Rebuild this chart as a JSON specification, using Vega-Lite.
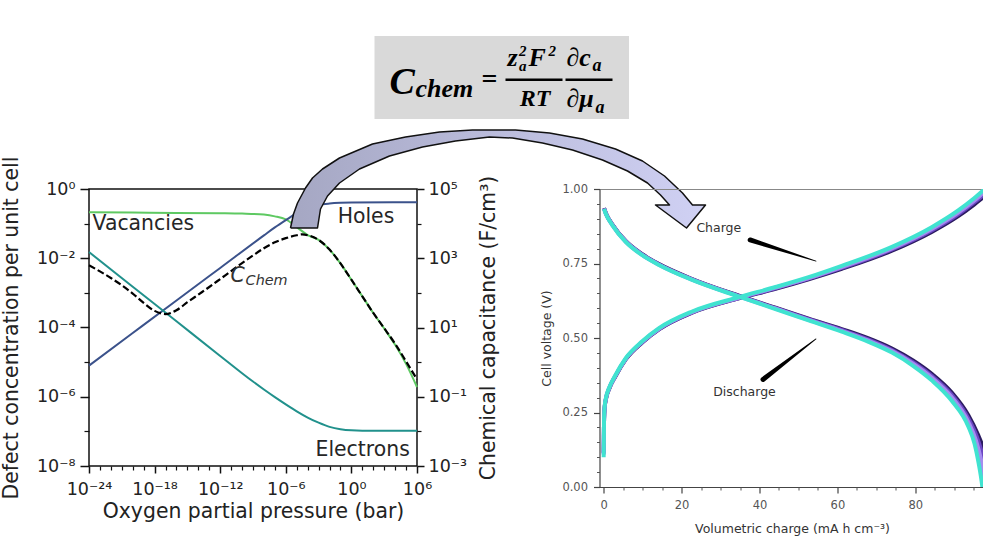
{
  "$schema": "https://vega.github.io/schema/vega-lite/v6.json",
  "background": "white",
  "padding": 0,
  "autosize": {"type": "pad"},
  "spacing": 182.5,
  "bounds": "flush",
  "config": {
    "font": "DejaVu Sans",
    "view": {"stroke": null},
    "axis": {"labelFont": "DejaVu Sans", "titleFont": "DejaVu Sans", "grid": false},
    "text": {"font": "DejaVu Sans"}
  },
  "hconcat": [
    {
      "width": 328,
      "height": 277,
      "view": {"stroke": "#111", "strokeWidth": 1.5},
      "resolve": {"scale": {"x": "independent", "y": "independent", "color": "independent"}},
      "layer": [
        {
          "data": {"values": [
            {"pO2": 1e-24, "conc": 0.214, "species": "Vacancies"},
            {"pO2": 1e-20, "conc": 0.209, "species": "Vacancies"},
            {"pO2": 1e-16, "conc": 0.204, "species": "Vacancies"},
            {"pO2": 1e-12, "conc": 0.2, "species": "Vacancies"},
            {"pO2": 1e-10, "conc": 0.195, "species": "Vacancies"},
            {"pO2": 1e-8, "conc": 0.182, "species": "Vacancies"},
            {"pO2": 1e-7, "conc": 0.162, "species": "Vacancies"},
            {"pO2": 1e-6, "conc": 0.132, "species": "Vacancies"},
            {"pO2": 1e-5, "conc": 0.0794, "species": "Vacancies"},
            {"pO2": 1e-4, "conc": 0.0468, "species": "Vacancies"},
            {"pO2": 1e-3, "conc": 0.0339, "species": "Vacancies"},
            {"pO2": 1e-2, "conc": 0.0178, "species": "Vacancies"},
            {"pO2": 0.1, "conc": 0.00708, "species": "Vacancies"},
            {"pO2": 1, "conc": 0.0024, "species": "Vacancies"},
            {"pO2": 10, "conc": 0.000794, "species": "Vacancies"},
            {"pO2": 100, "conc": 0.000263, "species": "Vacancies"},
            {"pO2": 1000, "conc": 0.0000933, "species": "Vacancies"},
            {"pO2": 1e4, "conc": 0.0000316, "species": "Vacancies"},
            {"pO2": 1e5, "conc": 0.00000891, "species": "Vacancies"},
            {"pO2": 1e6, "conc": 0.00000191, "species": "Vacancies"},
            {"pO2": 1e-24, "conc": 0.00000794, "species": "Holes"},
            {"pO2": 1e-20, "conc": 0.0000692, "species": "Holes"},
            {"pO2": 1e-16, "conc": 0.000603, "species": "Holes"},
            {"pO2": 1e-12, "conc": 0.00525, "species": "Holes"},
            {"pO2": 1e-8, "conc": 0.0457, "species": "Holes"},
            {"pO2": 1e-7, "conc": 0.0776, "species": "Holes"},
            {"pO2": 1e-6, "conc": 0.126, "species": "Holes"},
            {"pO2": 1e-5, "conc": 0.2, "species": "Holes"},
            {"pO2": 1e-4, "conc": 0.282, "species": "Holes"},
            {"pO2": 1e-3, "conc": 0.347, "species": "Holes"},
            {"pO2": 1e-2, "conc": 0.38, "species": "Holes"},
            {"pO2": 0.1, "conc": 0.398, "species": "Holes"},
            {"pO2": 1, "conc": 0.407, "species": "Holes"},
            {"pO2": 1e6, "conc": 0.417, "species": "Holes"},
            {"pO2": 1e-24, "conc": 0.0151, "species": "Electrons"},
            {"pO2": 1e-20, "conc": 0.00151, "species": "Electrons"},
            {"pO2": 1e-16, "conc": 0.000151, "species": "Electrons"},
            {"pO2": 1e-12, "conc": 0.0000151, "species": "Electrons"},
            {"pO2": 1e-10, "conc": 0.00000479, "species": "Electrons"},
            {"pO2": 1e-9, "conc": 0.00000275, "species": "Electrons"},
            {"pO2": 1e-8, "conc": 0.00000162, "species": "Electrons"},
            {"pO2": 1e-7, "conc": 9.77e-7, "species": "Electrons"},
            {"pO2": 1e-6, "conc": 6.03e-7, "species": "Electrons"},
            {"pO2": 1e-5, "conc": 3.8e-7, "species": "Electrons"},
            {"pO2": 1e-4, "conc": 2.51e-7, "species": "Electrons"},
            {"pO2": 1e-3, "conc": 1.78e-7, "species": "Electrons"},
            {"pO2": 1e-2, "conc": 1.35e-7, "species": "Electrons"},
            {"pO2": 0.1, "conc": 1.15e-7, "species": "Electrons"},
            {"pO2": 1, "conc": 1.07e-7, "species": "Electrons"},
            {"pO2": 10, "conc": 1.05e-7, "species": "Electrons"},
            {"pO2": 1e6, "conc": 1.05e-7, "species": "Electrons"}
          ]},
          "mark": {"type": "line", "strokeWidth": 2, "interpolate": "monotone"},
          "encoding": {
            "x": {"field": "pO2", "type": "quantitative",
              "scale": {"type": "log", "domain": [1e-24, 1e6], "nice": false},
              "axis": {"orient": "bottom", "values": [1e-24, 1e-18, 1e-12, 1e-6, 1, 1e6],
                "labelExpr": "'10' + replace(replace(replace(replace(replace(replace(replace(replace(replace(replace(replace('' + round(log(datum.value) / LN10), '-', '⁻'), '0', '⁰'), '1', '¹'), '2', '²'), '3', '³'), '4', '⁴'), '5', '⁵'), '6', '⁶'), '7', '⁷'), '8', '⁸'), '9', '⁹')",
                "title": "Oxygen partial pressure (bar)", "domain": false, "tickSize": 7, "tickWidth": 1.5, "tickColor": "#111",
                "labelFontSize": 17.5, "labelColor": "#222", "labelPadding": 7, "labelFlush": false, "labelOverlap": false,
                "titleFontSize": 20.4, "titleFontWeight": "normal", "titleColor": "#222", "titlePadding": 4}},
            "y": {"field": "conc", "type": "quantitative",
              "scale": {"type": "log", "domain": [1e-8, 1], "nice": false},
              "axis": {"orient": "left", "values": [1e-8, 1e-6, 1e-4, 1e-2, 1],
                "labelExpr": "'10' + replace(replace(replace(replace(replace(replace(replace(replace(replace(replace(replace('' + round(log(datum.value) / LN10), '-', '⁻'), '0', '⁰'), '1', '¹'), '2', '²'), '3', '³'), '4', '⁴'), '5', '⁵'), '6', '⁶'), '7', '⁷'), '8', '⁸'), '9', '⁹')",
                "title": "Defect concentration per unit cell", "domain": false, "tickSize": 9, "tickWidth": 1.5, "tickColor": "#111",
                "labelFontSize": 17.5, "labelColor": "#222", "labelPadding": 5, "labelOverlap": false,
                "titleFontSize": 20.4, "titleFontWeight": "normal", "titleColor": "#222", "titlePadding": 15}},
            "color": {"field": "species", "type": "nominal",
              "scale": {"domain": ["Vacancies", "Holes", "Electrons"], "range": ["#5ec962", "#3b528b", "#21918c"]},
              "legend": null}
          }
        },
        {
          "data": {"values": [
            {"pO2": 2.1e-24, "conc": 0.1, "label": "Vacancies"},
            {"pO2": 0.055, "conc": 0.155, "label": "Holes"},
            {"pO2": 0.00052, "conc": 2.9e-8, "label": "Electrons"}
          ]},
          "mark": {"type": "text", "align": "left", "baseline": "middle", "fontSize": 20.4, "color": "#262626"},
          "encoding": {
            "x": {"field": "pO2", "type": "quantitative",
              "scale": {"type": "log", "domain": [1e-24, 1e6], "nice": false},
              "axis": {"orient": "bottom", "values": [1e-23, 1e-22, 1e-21, 1e-20, 1e-19, 1e-17, 1e-16, 1e-15, 1e-14, 1e-13, 1e-11, 1e-10, 1e-9, 1e-8, 1e-7, 1e-5, 1e-4, 1e-3, 1e-2, 1e-1, 10, 100, 1000, 1e4, 1e5],
                "labels": false, "domain": false, "tickSize": 4, "tickWidth": 1.2, "tickColor": "#111", "title": null}},
            "y": {"field": "conc", "type": "quantitative",
              "scale": {"type": "log", "domain": [1e-8, 1], "nice": false},
              "axis": {"orient": "left", "values": [1e-7, 1e-5, 1e-3, 1e-1],
                "labels": false, "domain": false, "tickSize": 5, "tickWidth": 1.2, "tickColor": "#111", "title": null}},
            "text": {"field": "label"}
          }
        },
        {
          "data": {"values": [
            {"pO2": 1e-24, "cap": 631}, {"pO2": 1e-23, "cap": 417}, {"pO2": 1e-22, "cap": 269},
            {"pO2": 1e-21, "cap": 166}, {"pO2": 1e-20, "cap": 95.5}, {"pO2": 1e-19, "cap": 51.3},
            {"pO2": 1e-18, "cap": 30.2}, {"pO2": 1e-17, "cap": 24.5}, {"pO2": 1e-16, "cap": 31.6},
            {"pO2": 1e-15, "cap": 53.7}, {"pO2": 1e-14, "cap": 89.1}, {"pO2": 1e-13, "cap": 148},
            {"pO2": 1e-12, "cap": 251}, {"pO2": 1e-11, "cap": 427}, {"pO2": 1e-10, "cap": 724},
            {"pO2": 1e-9, "cap": 1202}, {"pO2": 1e-8, "cap": 1950}, {"pO2": 1e-7, "cap": 2884},
            {"pO2": 1e-6, "cap": 3802}, {"pO2": 1e-5, "cap": 4624}, {"pO2": 3.16e-5, "cap": 4898},
            {"pO2": 1e-4, "cap": 4624}, {"pO2": 1e-3, "cap": 3388}, {"pO2": 1e-2, "cap": 1778},
            {"pO2": 0.1, "cap": 708}, {"pO2": 1, "cap": 240}, {"pO2": 10, "cap": 79.4},
            {"pO2": 100, "cap": 26.3}, {"pO2": 1000, "cap": 9.55}, {"pO2": 1e4, "cap": 3.39},
            {"pO2": 1e5, "cap": 1.05}, {"pO2": 1e6, "cap": 0.316}
          ]},
          "mark": {"type": "line", "color": "#000", "strokeWidth": 2.2, "strokeDash": [7, 3], "interpolate": "monotone"},
          "encoding": {
            "x": {"field": "pO2", "type": "quantitative",
              "scale": {"type": "log", "domain": [1e-24, 1e6], "nice": false}, "axis": null},
            "y": {"field": "cap", "type": "quantitative",
              "scale": {"type": "log", "domain": [1e-3, 1e5], "nice": false},
              "axis": {"orient": "right", "values": [1e-3, 1e-1, 10, 1000, 1e5],
                "labelExpr": "'10' + replace(replace(replace(replace(replace(replace(replace(replace(replace(replace(replace('' + round(log(datum.value) / LN10), '-', '⁻'), '0', '⁰'), '1', '¹'), '2', '²'), '3', '³'), '4', '⁴'), '5', '⁵'), '6', '⁶'), '7', '⁷'), '8', '⁸'), '9', '⁹')",
                "title": "Chemical capacitance (F/cm³)", "titleAngle": 270, "titleBaseline": "top",
                "domain": false, "tickSize": 7, "tickWidth": 1.5, "tickColor": "#111",
                "labelFontSize": 17.5, "labelColor": "#222", "labelPadding": 4, "labelOverlap": false,
                "titleFontSize": 20.4, "titleFontWeight": "normal", "titleColor": "#222", "titlePadding": 12}}
          }
        },
        {
          "data": {"values": [{"pO2": 8.9e-12, "cap": 302, "label": "C"}]},
          "mark": {"type": "text", "align": "left", "baseline": "middle", "fontSize": 20.4, "fontStyle": "italic", "color": "#333"},
          "encoding": {
            "x": {"field": "pO2", "type": "quantitative",
              "scale": {"type": "log", "domain": [1e-24, 1e6], "nice": false}, "axis": null},
            "y": {"field": "cap", "type": "quantitative",
              "scale": {"type": "log", "domain": [1e-3, 1e5], "nice": false},
              "axis": {"orient": "right", "values": [1e-2, 1, 100, 1e4],
                "labels": false, "domain": false, "tickSize": 4, "tickWidth": 1.2, "tickColor": "#111", "title": null}},
            "text": {"field": "label"}
          }
        },
        {
          "data": {"values": [{"pO2": 2.1e-10, "cap": 214, "label": "Chem"}]},
          "mark": {"type": "text", "align": "left", "baseline": "middle", "fontSize": 14.4, "fontStyle": "italic", "color": "#333"},
          "encoding": {
            "x": {"field": "pO2", "type": "quantitative",
              "scale": {"type": "log", "domain": [1e-24, 1e6], "nice": false}, "axis": null},
            "y": {"field": "cap", "type": "quantitative",
              "scale": {"type": "log", "domain": [1e-3, 1e5], "nice": false}, "axis": null},
            "text": {"field": "label"}
          }
        },
        {
          "layer": [
            {
              "data": {"values": [{}]},
              "mark": {"type": "rect", "opacity": 0},
              "encoding": {
                "x": {"datum": 0, "type": "quantitative", "scale": {"domain": [86.5, 414.5], "nice": false, "zero": false}, "axis": null},
                "x2": {"datum": 982},
                "y": {"datum": 0, "type": "quantitative", "scale": {"domain": [188, 465], "reverse": true, "nice": false, "zero": false}, "axis": null},
                "y2": {"datum": 554}
              }
            },
            {
              "data": {"values": [{}]},
              "mark": {"type": "rect", "fill": "#d9d9d9"},
              "encoding": {
                "x": {"datum": 372, "type": "quantitative", "scale": {"domain": [86.5, 414.5], "nice": false, "zero": false}, "axis": null},
                "x2": {"datum": 626.5},
                "y": {"datum": 35, "type": "quantitative", "scale": {"domain": [188, 465], "reverse": true, "nice": false, "zero": false}, "axis": null},
                "y2": {"datum": 118}
              }
            },
            {
              "data": {"values": [{}]},
              "mark": {"type": "text", "text": "C", "font": "Liberation Serif", "fontStyle": "italic", "fontWeight": "bold", "fontSize": 38, "align": "left", "baseline": "alphabetic", "color": "#000"},
              "encoding": {
                "x": {"datum": 387, "type": "quantitative", "scale": {"domain": [86.5, 414.5], "nice": false, "zero": false}, "axis": null},
                "y": {"datum": 93, "type": "quantitative", "scale": {"domain": [188, 465], "reverse": true, "nice": false, "zero": false}, "axis": null}
              }
            },
            {
              "data": {"values": [{}]},
              "mark": {"type": "text", "text": "chem", "font": "Liberation Serif", "fontStyle": "italic", "fontWeight": "bold", "fontSize": 26, "align": "left", "baseline": "alphabetic", "color": "#000"},
              "encoding": {
                "x": {"datum": 413, "type": "quantitative", "scale": {"domain": [86.5, 414.5], "nice": false, "zero": false}, "axis": null},
                "y": {"datum": 96, "type": "quantitative", "scale": {"domain": [188, 465], "reverse": true, "nice": false, "zero": false}, "axis": null}
              }
            },
            {
              "data": {"values": [{}]},
              "mark": {"type": "text", "text": "=", "font": "Liberation Serif", "fontWeight": "bold", "fontSize": 28, "align": "left", "baseline": "alphabetic", "color": "#000"},
              "encoding": {
                "x": {"datum": 479, "type": "quantitative", "scale": {"domain": [86.5, 414.5], "nice": false, "zero": false}, "axis": null},
                "y": {"datum": 87, "type": "quantitative", "scale": {"domain": [188, 465], "reverse": true, "nice": false, "zero": false}, "axis": null}
              }
            },
            {
              "data": {"values": [{}]},
              "mark": {"type": "text", "text": "z", "font": "Liberation Serif", "fontStyle": "italic", "fontWeight": "bold", "fontSize": 26, "align": "left", "baseline": "alphabetic", "color": "#000"},
              "encoding": {
                "x": {"datum": 505, "type": "quantitative", "scale": {"domain": [86.5, 414.5], "nice": false, "zero": false}, "axis": null},
                "y": {"datum": 65, "type": "quantitative", "scale": {"domain": [188, 465], "reverse": true, "nice": false, "zero": false}, "axis": null}
              }
            },
            {
              "data": {"values": [{}]},
              "mark": {"type": "text", "text": "2", "font": "Liberation Serif", "fontStyle": "italic", "fontWeight": "bold", "fontSize": 15, "align": "left", "baseline": "alphabetic", "color": "#000"},
              "encoding": {
                "x": {"datum": 516.5, "type": "quantitative", "scale": {"domain": [86.5, 414.5], "nice": false, "zero": false}, "axis": null},
                "y": {"datum": 55, "type": "quantitative", "scale": {"domain": [188, 465], "reverse": true, "nice": false, "zero": false}, "axis": null}
              }
            },
            {
              "data": {"values": [{}]},
              "mark": {"type": "text", "text": "a", "font": "Liberation Serif", "fontStyle": "italic", "fontWeight": "bold", "fontSize": 15, "align": "left", "baseline": "alphabetic", "color": "#000"},
              "encoding": {
                "x": {"datum": 516.5, "type": "quantitative", "scale": {"domain": [86.5, 414.5], "nice": false, "zero": false}, "axis": null},
                "y": {"datum": 70, "type": "quantitative", "scale": {"domain": [188, 465], "reverse": true, "nice": false, "zero": false}, "axis": null}
              }
            },
            {
              "data": {"values": [{}]},
              "mark": {"type": "text", "text": "F", "font": "Liberation Serif", "fontStyle": "italic", "fontWeight": "bold", "fontSize": 26, "align": "left", "baseline": "alphabetic", "color": "#000"},
              "encoding": {
                "x": {"datum": 526, "type": "quantitative", "scale": {"domain": [86.5, 414.5], "nice": false, "zero": false}, "axis": null},
                "y": {"datum": 65, "type": "quantitative", "scale": {"domain": [188, 465], "reverse": true, "nice": false, "zero": false}, "axis": null}
              }
            },
            {
              "data": {"values": [{}]},
              "mark": {"type": "text", "text": "2", "font": "Liberation Serif", "fontStyle": "italic", "fontWeight": "bold", "fontSize": 15, "align": "left", "baseline": "alphabetic", "color": "#000"},
              "encoding": {
                "x": {"datum": 546, "type": "quantitative", "scale": {"domain": [86.5, 414.5], "nice": false, "zero": false}, "axis": null},
                "y": {"datum": 55, "type": "quantitative", "scale": {"domain": [188, 465], "reverse": true, "nice": false, "zero": false}, "axis": null}
              }
            },
            {
              "data": {"values": [{}]},
              "mark": {"type": "text", "text": "RT", "font": "Liberation Serif", "fontStyle": "italic", "fontWeight": "bold", "fontSize": 24, "align": "center", "baseline": "alphabetic", "color": "#000"},
              "encoding": {
                "x": {"datum": 532.5, "type": "quantitative", "scale": {"domain": [86.5, 414.5], "nice": false, "zero": false}, "axis": null},
                "y": {"datum": 105, "type": "quantitative", "scale": {"domain": [188, 465], "reverse": true, "nice": false, "zero": false}, "axis": null}
              }
            },
            {
              "data": {"values": [{}]},
              "mark": {"type": "text", "text": "∂c", "font": "Liberation Serif", "fontStyle": "italic", "fontWeight": "bold", "fontSize": 26, "align": "left", "baseline": "alphabetic", "color": "#000"},
              "encoding": {
                "x": {"datum": 564, "type": "quantitative", "scale": {"domain": [86.5, 414.5], "nice": false, "zero": false}, "axis": null},
                "y": {"datum": 65, "type": "quantitative", "scale": {"domain": [188, 465], "reverse": true, "nice": false, "zero": false}, "axis": null}
              }
            },
            {
              "data": {"values": [{}]},
              "mark": {"type": "text", "text": "a", "font": "Liberation Serif", "fontStyle": "italic", "fontWeight": "bold", "fontSize": 18, "align": "left", "baseline": "alphabetic", "color": "#000"},
              "encoding": {
                "x": {"datum": 590, "type": "quantitative", "scale": {"domain": [86.5, 414.5], "nice": false, "zero": false}, "axis": null},
                "y": {"datum": 70, "type": "quantitative", "scale": {"domain": [188, 465], "reverse": true, "nice": false, "zero": false}, "axis": null}
              }
            },
            {
              "data": {"values": [{}]},
              "mark": {"type": "text", "text": "∂μ", "font": "Liberation Serif", "fontStyle": "italic", "fontWeight": "bold", "fontSize": 26, "align": "left", "baseline": "alphabetic", "color": "#000"},
              "encoding": {
                "x": {"datum": 564, "type": "quantitative", "scale": {"domain": [86.5, 414.5], "nice": false, "zero": false}, "axis": null},
                "y": {"datum": 106, "type": "quantitative", "scale": {"domain": [188, 465], "reverse": true, "nice": false, "zero": false}, "axis": null}
              }
            },
            {
              "data": {"values": [{}]},
              "mark": {"type": "text", "text": "a", "font": "Liberation Serif", "fontStyle": "italic", "fontWeight": "bold", "fontSize": 18, "align": "left", "baseline": "alphabetic", "color": "#000"},
              "encoding": {
                "x": {"datum": 593, "type": "quantitative", "scale": {"domain": [86.5, 414.5], "nice": false, "zero": false}, "axis": null},
                "y": {"datum": 112, "type": "quantitative", "scale": {"domain": [188, 465], "reverse": true, "nice": false, "zero": false}, "axis": null}
              }
            },
            {
              "data": {"values": [{"from": 503, "to": 560}, {"from": 563, "to": 610}]},
              "mark": {"type": "rule", "color": "#000", "strokeWidth": 2.5},
              "encoding": {
                "x": {"field": "from", "type": "quantitative", "scale": {"domain": [86.5, 414.5], "nice": false, "zero": false}, "axis": null},
                "x2": {"field": "to"},
                "y": {"datum": 78.7, "type": "quantitative", "scale": {"domain": [188, 465], "reverse": true, "nice": false, "zero": false}, "axis": null}
              }
            },
            {
              "data": {"values": [
                {"i": 1, "x": 288, "y": 227}, {"i": 2, "x": 291, "y": 213}, {"i": 3, "x": 295, "y": 202},
                {"i": 4, "x": 303, "y": 187}, {"i": 5, "x": 310, "y": 177}, {"i": 6, "x": 320, "y": 168},
                {"i": 7, "x": 337, "y": 157}, {"i": 8, "x": 370, "y": 143}, {"i": 9, "x": 403, "y": 136},
                {"i": 10, "x": 437, "y": 131}, {"i": 11, "x": 470, "y": 129}, {"i": 12, "x": 513, "y": 129},
                {"i": 13, "x": 547, "y": 132}, {"i": 14, "x": 580, "y": 138}, {"i": 15, "x": 613, "y": 148},
                {"i": 16, "x": 640, "y": 160}, {"i": 17, "x": 662, "y": 175}, {"i": 18, "x": 680, "y": 192},
                {"i": 19, "x": 690, "y": 204}, {"i": 20, "x": 703, "y": 204}, {"i": 21, "x": 684, "y": 227},
                {"i": 22, "x": 653, "y": 204}, {"i": 23, "x": 667, "y": 204}, {"i": 24, "x": 658, "y": 194},
                {"i": 25, "x": 645, "y": 182}, {"i": 26, "x": 625, "y": 170}, {"i": 27, "x": 600, "y": 159},
                {"i": 28, "x": 570, "y": 149}, {"i": 29, "x": 540, "y": 142}, {"i": 30, "x": 510, "y": 137},
                {"i": 31, "x": 487, "y": 136}, {"i": 32, "x": 453, "y": 140}, {"i": 33, "x": 420, "y": 146},
                {"i": 34, "x": 387, "y": 155}, {"i": 35, "x": 357, "y": 168}, {"i": 36, "x": 337, "y": 182},
                {"i": 37, "x": 325, "y": 195}, {"i": 38, "x": 318, "y": 208}, {"i": 39, "x": 315, "y": 227},
                {"i": 40, "x": 288, "y": 227}
              ]},
              "mark": {"type": "line", "stroke": "#111", "strokeWidth": 1.5, "strokeJoin": "round",
                "fill": {"gradient": "linear", "x1": 0, "y1": 0, "x2": 1, "y2": 0,
                  "stops": [{"offset": 0, "color": "#a5a7c3"}, {"offset": 1, "color": "#d0d1f4"}]}},
              "encoding": {
                "x": {"field": "x", "type": "quantitative", "scale": {"domain": [86.5, 414.5], "nice": false, "zero": false}, "axis": null},
                "y": {"field": "y", "type": "quantitative", "scale": {"domain": [188, 465], "reverse": true, "nice": false, "zero": false}, "axis": null},
                "order": {"field": "i", "type": "quantitative"}
              }
            }
          ]
        }
      ]
    },
    {
      "width": 385,
      "height": 298,
      "resolve": {"scale": {"x": "independent", "y": "independent", "color": "independent", "size": "independent"}},
      "layer": [
        {
          "data": {"values": [
            {"cycle": "1", "step": "charge", "q": 0, "V": 0.115}, {"cycle": "1", "step": "charge", "q": 0.05, "V": 0.17},
            {"cycle": "1", "step": "charge", "q": 0.1, "V": 0.225}, {"cycle": "1", "step": "charge", "q": 0.25, "V": 0.265},
            {"cycle": "1", "step": "charge", "q": 0.6, "V": 0.296}, {"cycle": "1", "step": "charge", "q": 1.4, "V": 0.329},
            {"cycle": "1", "step": "charge", "q": 3, "V": 0.371}, {"cycle": "1", "step": "charge", "q": 5.7, "V": 0.429},
            {"cycle": "1", "step": "charge", "q": 9.9, "V": 0.485}, {"cycle": "1", "step": "charge", "q": 14.2, "V": 0.529},
            {"cycle": "1", "step": "charge", "q": 22.7, "V": 0.585}, {"cycle": "1", "step": "charge", "q": 34.7, "V": 0.633},
            {"cycle": "1", "step": "charge", "q": 44.1, "V": 0.665}, {"cycle": "1", "step": "charge", "q": 52.6, "V": 0.697},
            {"cycle": "1", "step": "charge", "q": 61.1, "V": 0.732}, {"cycle": "1", "step": "charge", "q": 74, "V": 0.793},
            {"cycle": "1", "step": "charge", "q": 84.2, "V": 0.856}, {"cycle": "1", "step": "charge", "q": 91, "V": 0.909},
            {"cycle": "1", "step": "charge", "q": 95, "V": 0.947}, {"cycle": "1", "step": "charge", "q": 99, "V": 0.989},
            {"cycle": "1", "step": "discharge", "q": 0.1, "V": 0.936}, {"cycle": "1", "step": "discharge", "q": 0.6, "V": 0.918},
            {"cycle": "1", "step": "discharge", "q": 2.25, "V": 0.881}, {"cycle": "1", "step": "discharge", "q": 5.7, "V": 0.825},
            {"cycle": "1", "step": "discharge", "q": 9.9, "V": 0.781}, {"cycle": "1", "step": "discharge", "q": 14.2, "V": 0.748},
            {"cycle": "1", "step": "discharge", "q": 22.7, "V": 0.698}, {"cycle": "1", "step": "discharge", "q": 34.7, "V": 0.642},
            {"cycle": "1", "step": "discharge", "q": 44.1, "V": 0.602}, {"cycle": "1", "step": "discharge", "q": 52.6, "V": 0.565},
            {"cycle": "1", "step": "discharge", "q": 61.1, "V": 0.53}, {"cycle": "1", "step": "discharge", "q": 68, "V": 0.499},
            {"cycle": "1", "step": "discharge", "q": 74, "V": 0.465}, {"cycle": "1", "step": "discharge", "q": 79.5, "V": 0.424},
            {"cycle": "1", "step": "discharge", "q": 84.2, "V": 0.38}, {"cycle": "1", "step": "discharge", "q": 89.3, "V": 0.318},
            {"cycle": "1", "step": "discharge", "q": 93.6, "V": 0.241}, {"cycle": "1", "step": "discharge", "q": 96.1, "V": 0.175},
            {"cycle": "1", "step": "discharge", "q": 98, "V": 0.11}, {"cycle": "1", "step": "discharge", "q": 99.4, "V": 0.04},
            {"cycle": "1", "step": "discharge", "q": 100, "V": 0},
            {"cycle": "2", "step": "charge", "q": 0, "V": 0.112}, {"cycle": "2", "step": "charge", "q": 0.05, "V": 0.165},
            {"cycle": "2", "step": "charge", "q": 0.1, "V": 0.227}, {"cycle": "2", "step": "charge", "q": 0.25, "V": 0.267},
            {"cycle": "2", "step": "charge", "q": 0.6, "V": 0.297}, {"cycle": "2", "step": "charge", "q": 1.4, "V": 0.33},
            {"cycle": "2", "step": "charge", "q": 3, "V": 0.372}, {"cycle": "2", "step": "charge", "q": 5.7, "V": 0.43},
            {"cycle": "2", "step": "charge", "q": 9.9, "V": 0.486}, {"cycle": "2", "step": "charge", "q": 14.2, "V": 0.53},
            {"cycle": "2", "step": "charge", "q": 22.7, "V": 0.586}, {"cycle": "2", "step": "charge", "q": 34.7, "V": 0.634},
            {"cycle": "2", "step": "charge", "q": 44.1, "V": 0.667}, {"cycle": "2", "step": "charge", "q": 52.6, "V": 0.699},
            {"cycle": "2", "step": "charge", "q": 61.1, "V": 0.735}, {"cycle": "2", "step": "charge", "q": 74, "V": 0.797},
            {"cycle": "2", "step": "charge", "q": 84.2, "V": 0.861}, {"cycle": "2", "step": "charge", "q": 91, "V": 0.915},
            {"cycle": "2", "step": "charge", "q": 95, "V": 0.954}, {"cycle": "2", "step": "charge", "q": 98.5, "V": 0.991},
            {"cycle": "2", "step": "discharge", "q": 0.1, "V": 0.935}, {"cycle": "2", "step": "discharge", "q": 0.6, "V": 0.917},
            {"cycle": "2", "step": "discharge", "q": 2.25, "V": 0.88}, {"cycle": "2", "step": "discharge", "q": 5.7, "V": 0.824},
            {"cycle": "2", "step": "discharge", "q": 9.9, "V": 0.78}, {"cycle": "2", "step": "discharge", "q": 14.2, "V": 0.747},
            {"cycle": "2", "step": "discharge", "q": 22.7, "V": 0.697}, {"cycle": "2", "step": "discharge", "q": 34.7, "V": 0.641},
            {"cycle": "2", "step": "discharge", "q": 44.1, "V": 0.6}, {"cycle": "2", "step": "discharge", "q": 52.6, "V": 0.563},
            {"cycle": "2", "step": "discharge", "q": 61.1, "V": 0.527}, {"cycle": "2", "step": "discharge", "q": 68, "V": 0.495},
            {"cycle": "2", "step": "discharge", "q": 74, "V": 0.46}, {"cycle": "2", "step": "discharge", "q": 79.5, "V": 0.418},
            {"cycle": "2", "step": "discharge", "q": 84.2, "V": 0.373}, {"cycle": "2", "step": "discharge", "q": 89.3, "V": 0.31},
            {"cycle": "2", "step": "discharge", "q": 93.6, "V": 0.23}, {"cycle": "2", "step": "discharge", "q": 95.8, "V": 0.168},
            {"cycle": "2", "step": "discharge", "q": 97.4, "V": 0.1}, {"cycle": "2", "step": "discharge", "q": 98.6, "V": 0.03},
            {"cycle": "2", "step": "discharge", "q": 99, "V": 0},
            {"cycle": "3", "step": "charge", "q": 0, "V": 0.108}, {"cycle": "3", "step": "charge", "q": 0.05, "V": 0.162},
            {"cycle": "3", "step": "charge", "q": 0.1, "V": 0.228}, {"cycle": "3", "step": "charge", "q": 0.25, "V": 0.268},
            {"cycle": "3", "step": "charge", "q": 0.6, "V": 0.298}, {"cycle": "3", "step": "charge", "q": 1.4, "V": 0.331},
            {"cycle": "3", "step": "charge", "q": 3, "V": 0.373}, {"cycle": "3", "step": "charge", "q": 5.7, "V": 0.431},
            {"cycle": "3", "step": "charge", "q": 9.9, "V": 0.487}, {"cycle": "3", "step": "charge", "q": 14.2, "V": 0.531},
            {"cycle": "3", "step": "charge", "q": 22.7, "V": 0.587}, {"cycle": "3", "step": "charge", "q": 34.7, "V": 0.635},
            {"cycle": "3", "step": "charge", "q": 44.1, "V": 0.669}, {"cycle": "3", "step": "charge", "q": 52.6, "V": 0.701},
            {"cycle": "3", "step": "charge", "q": 61.1, "V": 0.738}, {"cycle": "3", "step": "charge", "q": 74, "V": 0.801},
            {"cycle": "3", "step": "charge", "q": 84.2, "V": 0.866}, {"cycle": "3", "step": "charge", "q": 91, "V": 0.921},
            {"cycle": "3", "step": "charge", "q": 95, "V": 0.96}, {"cycle": "3", "step": "charge", "q": 98, "V": 0.994},
            {"cycle": "3", "step": "discharge", "q": 0.1, "V": 0.934}, {"cycle": "3", "step": "discharge", "q": 0.6, "V": 0.916},
            {"cycle": "3", "step": "discharge", "q": 2.25, "V": 0.879}, {"cycle": "3", "step": "discharge", "q": 5.7, "V": 0.823},
            {"cycle": "3", "step": "discharge", "q": 9.9, "V": 0.779}, {"cycle": "3", "step": "discharge", "q": 14.2, "V": 0.746},
            {"cycle": "3", "step": "discharge", "q": 22.7, "V": 0.696}, {"cycle": "3", "step": "discharge", "q": 34.7, "V": 0.64},
            {"cycle": "3", "step": "discharge", "q": 44.1, "V": 0.599}, {"cycle": "3", "step": "discharge", "q": 52.6, "V": 0.561},
            {"cycle": "3", "step": "discharge", "q": 61.1, "V": 0.524}, {"cycle": "3", "step": "discharge", "q": 68, "V": 0.491},
            {"cycle": "3", "step": "discharge", "q": 74, "V": 0.456}, {"cycle": "3", "step": "discharge", "q": 79.5, "V": 0.413},
            {"cycle": "3", "step": "discharge", "q": 84.2, "V": 0.367}, {"cycle": "3", "step": "discharge", "q": 89.3, "V": 0.302},
            {"cycle": "3", "step": "discharge", "q": 93.6, "V": 0.218}, {"cycle": "3", "step": "discharge", "q": 95.5, "V": 0.158},
            {"cycle": "3", "step": "discharge", "q": 96.8, "V": 0.095}, {"cycle": "3", "step": "discharge", "q": 97.8, "V": 0.025},
            {"cycle": "3", "step": "discharge", "q": 98.1, "V": 0},
            {"cycle": "4", "step": "charge", "q": 0, "V": 0.1}, {"cycle": "4", "step": "charge", "q": 0.05, "V": 0.16},
            {"cycle": "4", "step": "charge", "q": 0.1, "V": 0.23}, {"cycle": "4", "step": "charge", "q": 0.25, "V": 0.27},
            {"cycle": "4", "step": "charge", "q": 0.6, "V": 0.3}, {"cycle": "4", "step": "charge", "q": 1.4, "V": 0.333},
            {"cycle": "4", "step": "charge", "q": 3, "V": 0.375}, {"cycle": "4", "step": "charge", "q": 5.7, "V": 0.433},
            {"cycle": "4", "step": "charge", "q": 9.9, "V": 0.489}, {"cycle": "4", "step": "charge", "q": 14.2, "V": 0.533},
            {"cycle": "4", "step": "charge", "q": 22.7, "V": 0.589}, {"cycle": "4", "step": "charge", "q": 34.7, "V": 0.637},
            {"cycle": "4", "step": "charge", "q": 44.1, "V": 0.671}, {"cycle": "4", "step": "charge", "q": 52.6, "V": 0.704},
            {"cycle": "4", "step": "charge", "q": 61.1, "V": 0.742}, {"cycle": "4", "step": "charge", "q": 74, "V": 0.806},
            {"cycle": "4", "step": "charge", "q": 84.2, "V": 0.872}, {"cycle": "4", "step": "charge", "q": 91, "V": 0.928},
            {"cycle": "4", "step": "charge", "q": 95, "V": 0.968}, {"cycle": "4", "step": "charge", "q": 98, "V": 1.002},
            {"cycle": "4", "step": "discharge", "q": 0.1, "V": 0.933}, {"cycle": "4", "step": "discharge", "q": 0.6, "V": 0.915},
            {"cycle": "4", "step": "discharge", "q": 2.25, "V": 0.878}, {"cycle": "4", "step": "discharge", "q": 5.7, "V": 0.822},
            {"cycle": "4", "step": "discharge", "q": 9.9, "V": 0.778}, {"cycle": "4", "step": "discharge", "q": 14.2, "V": 0.745},
            {"cycle": "4", "step": "discharge", "q": 22.7, "V": 0.695}, {"cycle": "4", "step": "discharge", "q": 34.7, "V": 0.639},
            {"cycle": "4", "step": "discharge", "q": 44.1, "V": 0.597}, {"cycle": "4", "step": "discharge", "q": 52.6, "V": 0.559},
            {"cycle": "4", "step": "discharge", "q": 61.1, "V": 0.521}, {"cycle": "4", "step": "discharge", "q": 68, "V": 0.487},
            {"cycle": "4", "step": "discharge", "q": 74, "V": 0.451}, {"cycle": "4", "step": "discharge", "q": 79.5, "V": 0.406},
            {"cycle": "4", "step": "discharge", "q": 84.2, "V": 0.358}, {"cycle": "4", "step": "discharge", "q": 89.3, "V": 0.29},
            {"cycle": "4", "step": "discharge", "q": 93.6, "V": 0.203}, {"cycle": "4", "step": "discharge", "q": 95.2, "V": 0.145},
            {"cycle": "4", "step": "discharge", "q": 96.1, "V": 0.09}, {"cycle": "4", "step": "discharge", "q": 97, "V": 0.02},
            {"cycle": "4", "step": "discharge", "q": 97.2, "V": 0}
          ]},
          "mark": {"type": "line", "strokeWidth": 4, "clip": true, "interpolate": "monotone"},
          "encoding": {
            "x": {"field": "q", "type": "quantitative",
              "scale": {"domain": [-1.07, 97.75], "nice": false, "zero": false},
              "axis": {"orient": "bottom", "values": [0, 20, 40, 60, 80], "title": "Volumetric charge (mA h cm⁻³)",
                "domainColor": "#444", "domainWidth": 1.2, "tickColor": "#444", "tickSize": 6, "tickWidth": 1.2,
                "labelFontSize": 11.5, "labelColor": "#555", "labelPadding": 6, "labelFlush": false,
                "titleFontSize": 12.5, "titleFontWeight": "normal", "titleColor": "#333", "titlePadding": 12}},
            "y": {"field": "V", "type": "quantitative",
              "scale": {"domain": [0, 1], "nice": false, "zero": false},
              "axis": {"orient": "left", "values": [0, 0.25, 0.5, 0.75, 1], "format": ".2f", "title": "Cell voltage (V)",
                "domainColor": "#444", "domainWidth": 1.2, "tickColor": "#444", "tickSize": 6, "tickWidth": 1.2,
                "labelFontSize": 11.5, "labelColor": "#555", "labelPadding": 6,
                "titleFontSize": 12.5, "titleFontWeight": "normal", "titleColor": "#333", "titlePadding": 8}},
            "color": {"field": "cycle", "type": "nominal",
              "scale": {"domain": ["1", "2", "3", "4"], "range": ["#2b1b60", "#6c47c4", "#a58cf0", "#40e3d0"]},
              "legend": null},
            "detail": {"field": "step"}
          }
        },
        {
          "data": {"values": [
            {"q": 23.8, "V": 0.87, "label": "Charge"},
            {"q": 28.1, "V": 0.32, "label": "Discharge"}
          ]},
          "mark": {"type": "text", "align": "left", "baseline": "middle", "fontSize": 12.5, "color": "#333"},
          "encoding": {
            "x": {"field": "q", "type": "quantitative",
              "scale": {"domain": [-1.07, 97.75], "nice": false, "zero": false},
              "axis": {"orient": "bottom", "values": [5, 10, 15, 25, 30, 35, 45, 50, 55, 65, 70, 75, 85, 90, 95],
                "labels": false, "domain": false, "tickSize": 3, "tickWidth": 1, "tickColor": "#555", "title": null}},
            "y": {"field": "V", "type": "quantitative",
              "scale": {"domain": [0, 1], "nice": false, "zero": false},
              "axis": {"orient": "left", "values": [0.05, 0.1, 0.15, 0.2, 0.3, 0.35, 0.4, 0.45, 0.55, 0.6, 0.65, 0.7, 0.8, 0.85, 0.9, 0.95],
                "labels": false, "domain": false, "tickSize": 3, "tickWidth": 1, "tickColor": "#555", "title": null}},
            "text": {"field": "label"}
          }
        },
        {
          "data": {"values": [
            {"label": "Charge", "end": "thick", "q": 37.6, "V": 0.829},
            {"label": "Charge", "end": "thin", "q": 54.5, "V": 0.758},
            {"label": "Discharge", "end": "thick", "q": 40.9, "V": 0.361},
            {"label": "Discharge", "end": "thin", "q": 54.5, "V": 0.497}
          ]},
          "mark": {"type": "trail", "color": "#000"},
          "encoding": {
            "x": {"field": "q", "type": "quantitative",
              "scale": {"domain": [-1.07, 97.75], "nice": false, "zero": false},
              "axis": {"orient": "top", "values": [0, 50], "labels": false, "ticks": false, "domain": true, "domainColor": "#888", "domainWidth": 1.2, "title": null}},
            "y": {"field": "V", "type": "quantitative",
              "scale": {"domain": [0, 1], "nice": false, "zero": false}, "axis": null},
            "size": {"field": "end", "type": "ordinal", "scale": {"domain": ["thick", "thin"], "range": [5, 0.8]}, "legend": null},
            "detail": {"field": "label"}
          }
        }
      ]
    }
  ]
}
